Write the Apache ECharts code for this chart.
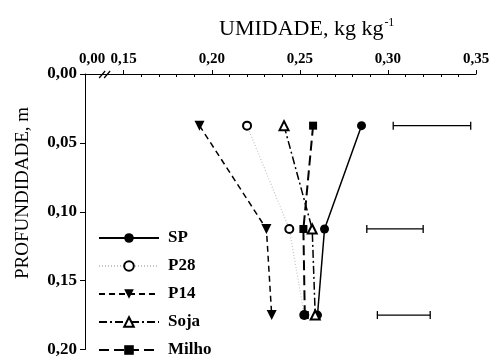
<!DOCTYPE html>
<html>
<head>
<meta charset="utf-8">
<script src="https://cdn.jsdelivr.net/npm/echarts@6/dist/echarts.min.js"></script>
<style>
  html, body { margin: 0; padding: 0; background: #fff; }
  #chart { width: 494px; height: 358px; }
</style>
</head>
<body>
<div id="chart"></div>
<script>
// profundidade (m) de cada camada amostrada
const depths = [0.0375, 0.1125, 0.175];

// umidade (kg kg-1) por tratamento
const sp    = [0.285, 0.264, 0.260];
const p28   = [0.220, 0.244, 0.2525];
const p14   = [0.193, 0.231, 0.234];
const soja  = [0.241, 0.257, 0.2587];
const milho = [0.2575, 0.252, 0.2528];

// barras de DMS por camada
const barLow  = [0.303, 0.288, 0.294];
const barHigh = [0.347, 0.320, 0.324];

// eixo X com quebra: o inicio do eixo representa 0,00
const xStart = 0.128;
const xMajorTicks = [0.15, 0.20, 0.25, 0.30, 0.35];
const xMinorTicks = [0.16, 0.17, 0.18, 0.19, 0.21, 0.22, 0.23, 0.24,
                     0.26, 0.27, 0.28, 0.29, 0.31, 0.32, 0.33, 0.34];
const xLabels = [xStart, 0.15, 0.20, 0.25, 0.30, 0.35];
const breakAt = 0.14;

const legendTop = ['SP', 'P28', 'P14', 'Soja'];
const legendBottom = ['Milho'];

const FONT = '"Liberation Serif", "Times New Roman", serif';

const pairs = vals => vals.map((v, i) => [v, depths[i]]);
const fmt = v => v.toFixed(2).replace('.', ',');

const chart = echarts.init(document.getElementById('chart'));

const baseX = {
  type: 'value',
  position: 'top',
  min: xStart,
  max: 0.35,
  splitLine: { show: false }
};

const legendBase = {
  orient: 'vertical',
  left: 98,
  padding: 0,
  itemWidth: 60,
  itemHeight: 12,
  itemGap: 10,
  textStyle: {
    fontFamily: FONT, fontSize: 17, fontWeight: 'bold', color: '#000',
    lineHeight: 18, padding: [0, 0, 0, 4]
  }
};

const option = {
  animation: false,
  backgroundColor: '#fff',
  textStyle: { fontFamily: FONT, color: '#000' },
  grid: { left: 85, right: 18, top: 74, bottom: 1, containLabel: false },
  title: {
    text: '{a|UMIDADE, kg kg}{b|-1}',
    left: 214,
    top: 12,
    textStyle: {
      rich: {
        a: { fontFamily: FONT, fontSize: 22, fontWeight: 'normal', color: '#000' },
        b: { fontFamily: FONT, fontSize: 12, fontWeight: 'normal', color: '#000', padding: [0, 0, 12, 1] }
      }
    }
  },
  legend: [
    Object.assign({}, legendBase, { data: legendTop, top: 229 }),
    Object.assign({}, legendBase, { data: legendBottom, top: 341 })
  ],
  xAxis: [
    Object.assign({}, baseX, {
      axisLine: { show: true, lineStyle: { color: '#000', width: 1 } },
      axisTick: { show: true, length: 4, customValues: xMajorTicks, lineStyle: { color: '#000' } },
      axisLabel: {
        customValues: xLabels,
        margin: 7,
        fontFamily: FONT, fontSize: 15, fontWeight: 'bold', color: '#000',
        formatter: v => (Math.abs(v - xStart) < 1e-6 ? '{z|0,00}' : fmt(v)),
        rich: { z: { fontFamily: FONT, fontSize: 15, fontWeight: 'bold', color: '#000', padding: [0, 0, 0, 14] } }
      }
    }),
    Object.assign({}, baseX, {
      axisLine: { show: false },
      axisTick: { show: true, inside: true, length: 3, customValues: xMinorTicks, lineStyle: { color: '#000' } },
      axisLabel: { show: false }
    })
  ],
  yAxis: {
    type: 'value',
    inverse: true,
    min: 0,
    max: 0.20,
    interval: 0.05,
    splitLine: { show: false },
    axisLine: { show: true, lineStyle: { color: '#000', width: 1 } },
    axisTick: { show: true, length: 5, lineStyle: { color: '#000' } },
    axisLabel: {
      margin: 8,
      fontFamily: FONT, fontSize: 17, fontWeight: 'bold', color: '#000',
      formatter: v => fmt(v)
    }
  },
  series: [
    {
      name: 'SP', type: 'line', data: pairs(sp),
      symbol: 'circle', symbolSize: 9,
      itemStyle: { color: '#000' },
      lineStyle: { color: '#000', width: 1.5, type: 'solid' }
    },
    {
      name: 'P28', type: 'line', data: pairs(p28),
      symbol: 'emptyCircle', symbolSize: 8,
      itemStyle: { color: '#000', borderWidth: 1.2 },
      lineStyle: { color: '#c4c4c4', width: 1.2, type: [1, 2] }
    },
    {
      name: 'P14', type: 'line', data: pairs(p14),
      symbol: 'triangle', symbolSize: 10, symbolRotate: 180,
      itemStyle: { color: '#000' },
      lineStyle: { color: '#000', width: 1.5, type: [6, 4] }
    },
    {
      name: 'Soja', type: 'line', data: pairs(soja),
      symbol: 'emptyTriangle', symbolSize: 9,
      itemStyle: { color: '#000', borderWidth: 1.2 },
      lineStyle: { color: '#000', width: 1.5, type: [8, 3, 2, 3] }
    },
    {
      name: 'Milho', type: 'line', data: pairs(milho),
      symbol: 'rect', symbolSize: 8,
      itemStyle: { color: '#000' },
      lineStyle: { color: '#000', width: 2, type: [10, 5] }
    },
    {
      name: 'DMS', type: 'custom',
      data: barLow.map((lo, i) => [lo, barHigh[i], depths[i]]),
      renderItem: (params, api) => {
        const a = api.coord([api.value(0), api.value(2)]);
        const b = api.coord([api.value(1), api.value(2)]);
        const s = { stroke: '#000', lineWidth: 1.3 };
        return {
          type: 'group',
          children: [
            { type: 'line', shape: { x1: a[0], y1: a[1], x2: b[0], y2: b[1] }, style: s },
            { type: 'line', shape: { x1: a[0], y1: a[1] - 4, x2: a[0], y2: a[1] + 4 }, style: s },
            { type: 'line', shape: { x1: b[0], y1: b[1] - 4, x2: b[0], y2: b[1] + 4 }, style: s }
          ]
        };
      }
    }
  ]
};

chart.setOption(option);

// marcas de quebra do eixo X e titulo do eixo Y
const bx = chart.convertToPixel({ xAxisIndex: 0 }, breakAt);
const by = chart.convertToPixel({ yAxisIndex: 0 }, 0);
chart.setOption({
  graphic: [
    { type: 'rect', shape: { x: bx - 5, y: by - 1, width: 10, height: 2 }, style: { fill: '#fff' } },
    { type: 'line', shape: { x1: bx - 7, y1: by + 4, x2: bx - 1, y2: by - 3 }, style: { stroke: '#000', lineWidth: 1.2 } },
    { type: 'line', shape: { x1: bx - 2, y1: by + 4, x2: bx + 4, y2: by - 3 }, style: { stroke: '#000', lineWidth: 1.2 } },
    {
      type: 'text', x: 23, y: 193, rotation: Math.PI / 2,
      style: {
        text: 'PROFUNDIDADE, m', fontFamily: FONT, fontSize: 19, fill: '#000',
        align: 'center', verticalAlign: 'middle'
      }
    }
  ]
});

window.addEventListener('resize', () => chart.resize());
</script>
</body>
</html>
